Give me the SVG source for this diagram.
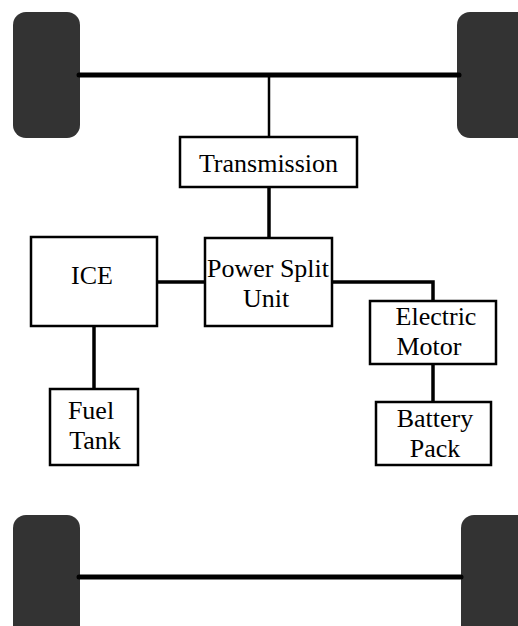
<svg xmlns="http://www.w3.org/2000/svg" width="518" height="626" viewBox="0 0 518 626">
<style>
.wheel{fill:#333333}
.axle{stroke:#000;stroke-width:5;stroke-linecap:round;fill:none}
.box{fill:#fff;stroke:#000;stroke-width:2.5}
.link{stroke:#000;fill:none;stroke-width:3.5}
.thin{stroke:#000;fill:none;stroke-width:2.5}
text{font-family:"Liberation Serif","Times New Roman",serif;font-size:26px;fill:#000;text-anchor:middle}
</style>
<rect width="518" height="626" fill="#fff"/>
<g id="wheels">
<rect class="wheel" x="13" y="12" width="67" height="126" rx="13"/>
<rect class="wheel" x="457" y="12" width="80" height="126" rx="13"/>
<rect class="wheel" x="13" y="515" width="67" height="130" rx="13"/>
<rect class="wheel" x="461" y="515" width="80" height="130" rx="13"/>
</g>
<g id="connectors">
<line class="axle" x1="79" y1="75" x2="459" y2="75"/>
<line class="axle" x1="79" y1="577" x2="461" y2="577"/>
<line class="thin" x1="269" y1="75" x2="269" y2="137"/>
<line class="link" x1="269" y1="187" x2="269" y2="238"/>
<line class="link" x1="157" y1="282" x2="205" y2="282"/>
<polyline class="link" points="332,282 433,282 433,301"/>
<line class="link" x1="433" y1="364" x2="433" y2="402"/>
<line class="link" x1="94" y1="326" x2="94" y2="389"/>
</g>
<g id="transmission">
<rect class="box" x="180" y="137" width="177" height="50"/>
<text x="268.5" y="172">Transmission</text>
</g>
<g id="ice">
<rect class="box" x="31" y="237" width="126" height="89"/>
<text x="92" y="284">ICE</text>
</g>
<g id="power-split-unit">
<rect class="box" x="205" y="238" width="127" height="88"/>
<text x="268" y="277">Power Split</text>
<text x="266" y="307">Unit</text>
</g>
<g id="electric-motor">
<rect class="box" x="370" y="301" width="126" height="63"/>
<text x="436" y="325">Electric</text>
<text x="429" y="355">Motor</text>
</g>
<g id="battery-pack">
<rect class="box" x="376" y="402" width="115" height="63"/>
<text x="435" y="427">Battery</text>
<text x="435" y="457">Pack</text>
</g>
<g id="fuel-tank">
<rect class="box" x="50" y="389" width="88" height="76"/>
<text x="91" y="419">Fuel</text>
<text x="95" y="449">Tank</text>
</g>
</svg>
